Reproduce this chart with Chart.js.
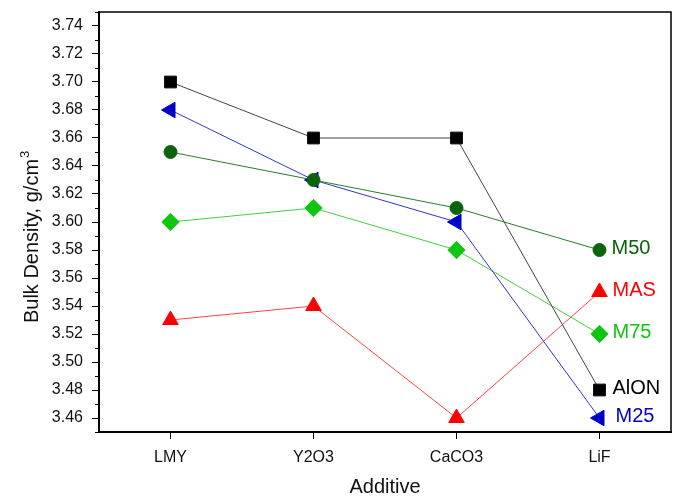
<!DOCTYPE html>
<html>
<head>
<meta charset="utf-8">
<script src="https://cdn.jsdelivr.net/npm/chart.js@4.4.0/dist/chart.umd.min.js"></script>
<style>
  html, body { margin: 0; padding: 0; background: #fff; }
  canvas { display: block; }
</style>
</head>
<body>
<canvas id="density" width="681" height="497"></canvas>
<script>
const additives = ['LMY', 'Y2O3', 'CaCO3', 'LiF'];
const alon = [3.70, 3.66, 3.66, 3.48];
const m25 = [3.68, 3.63, 3.60, 3.46];
const m50 = [3.65, 3.63, 3.61, 3.58];
const m75 = [3.60, 3.61, 3.58, 3.52];
const mas = [3.53, 3.54, 3.46, 3.55];
const yMin = 3.45, yMax = 3.75;

const fontFam = "'Liberation Sans', Arial, sans-serif";

// frame on top/right, minor ticks, y title with superscript, series labels
const framePlugin = {
    id: 'frame',
    beforeDatasetsDraw(chart) {
        const { ctx, chartArea: a, scales } = chart;
        ctx.save();
        ctx.strokeStyle = '#000';
        ctx.lineWidth = 1.5;
        ctx.beginPath();
        ctx.moveTo(a.left, a.top);
        ctx.lineTo(a.right, a.top);
        ctx.lineTo(a.right, a.bottom);
        ctx.stroke();
        // minor ticks
        ctx.lineWidth = 1;
        scales.y.ticks.forEach(t => {
            if (Math.round(t.value * 100) % 2 !== 0) {
                const y = Math.round(scales.y.getPixelForValue(t.value)) + 0.5;
                ctx.beginPath();
                ctx.moveTo(a.left - 4, y);
                ctx.lineTo(a.left, y);
                ctx.stroke();
            }
        });
        // y axis title
        ctx.translate(30, (a.top + a.bottom) / 2 + 19);
        ctx.rotate(-Math.PI / 2);
        ctx.fillStyle = '#111';
        ctx.textBaseline = 'alphabetic';
        ctx.textAlign = 'left';
        ctx.font = '20px ' + fontFam;
        const main = 'Bulk Density, g/cm';
        const w = ctx.measureText(main).width;
        ctx.fillText(main, -w / 2, 8);
        ctx.font = '13px ' + fontFam;
        ctx.fillText('3', w / 2 + 1, -1);
        ctx.restore();
    },
    afterDatasetsDraw(chart) {
        const { ctx } = chart;
        ctx.save();
        ctx.font = '20px ' + fontFam;
        ctx.textBaseline = 'middle';
        ctx.textAlign = 'left';
        chart.data.datasets.forEach((ds, i) => {
            const meta = chart.getDatasetMeta(i);
            const pt = meta.data[meta.data.length - 1];
            ctx.fillStyle = ds.labelColor;
            ctx.fillText(ds.label, pt.x + ds.labelDx, pt.y - 2);
        });
        ctx.restore();
    }
};

function series(label, data, color, lineColor, style, radius, rotation, dx) {
    return {
        label: label,
        data: data,
        borderColor: lineColor,
        borderWidth: 1,
        backgroundColor: color,
        pointBackgroundColor: color,
        pointBorderColor: color,
        pointBorderWidth: 1,
        pointStyle: style,
        pointRadius: radius,
        pointRotation: rotation,
        pointHoverRadius: radius,
        labelColor: color,
        labelDx: dx,
        tension: 0
    };
}

new Chart(document.getElementById('density'), {
    type: 'line',
    data: {
        labels: additives,
        datasets: [
            series('M50', m50, '#0b630b', '#2a7d2a', 'circle', 6.5, 0, 12),
            series('AlON', alon, '#000000', '#444444', 'rect', 8.3, 0, 13),
            series('M25', m25, '#0000c8', '#3333cc', 'triangle', 9, -90, 16),
            series('M75', m75, '#11c411', '#44cc44', 'rectRot', 8.7, 0, 13),
            series('MAS', mas, '#ff0000', '#ff4444', 'triangle', 9, 0, 13)
        ]
    },
    options: {
        responsive: false,
        animation: false,
        events: [],
        layout: { padding: { top: 12, right: 9, left: 0, bottom: 0 } },
        plugins: {
            legend: { display: false },
            tooltip: { enabled: false }
        },
        scales: {
            x: {
                type: 'category',
                offset: true,
                afterFit: s => { s.height = 65; s.paddingLeft = 0; s.paddingRight = 0; },
                grid: {
                    offset: false,
                    drawOnChartArea: false,
                    drawTicks: true,
                    tickLength: 7,
                    tickColor: '#000',
                    tickWidth: 1
                },
                border: { color: '#000', width: 2 },
                ticks: {
                    color: '#111',
                    padding: 9,
                    maxRotation: 0,
                    font: { family: fontFam, size: 16 }
                },
                title: {
                    display: true,
                    text: 'Additive',
                    color: '#111',
                    padding: { top: 0, bottom: 0 },
                    font: { family: fontFam, size: 20, lineHeight: 1.0 }
                }
            },
            y: {
                min: yMin,
                max: yMax,
                afterFit: s => { s.width = 99; s.paddingTop = 0; s.paddingBottom = 0; },
                grid: {
                    drawOnChartArea: false,
                    drawTicks: true,
                    tickLength: 7,
                    tickWidth: 1,
                    tickColor: ctx => (Math.round(ctx.tick.value * 100) % 2 === 0 ? '#000' : 'rgba(0,0,0,0)')
                },
                border: { color: '#000', width: 2 },
                ticks: {
                    stepSize: 0.01,
                    autoSkip: false,
                    color: '#111',
                    padding: 9,
                    font: { family: fontFam, size: 16 },
                    callback: v => (Math.round(v * 100) % 2 === 0 ? v.toFixed(2) : '')
                },
                title: { display: false }
            }
        }
    },
    plugins: [framePlugin]
});
</script>
</body>
</html>
